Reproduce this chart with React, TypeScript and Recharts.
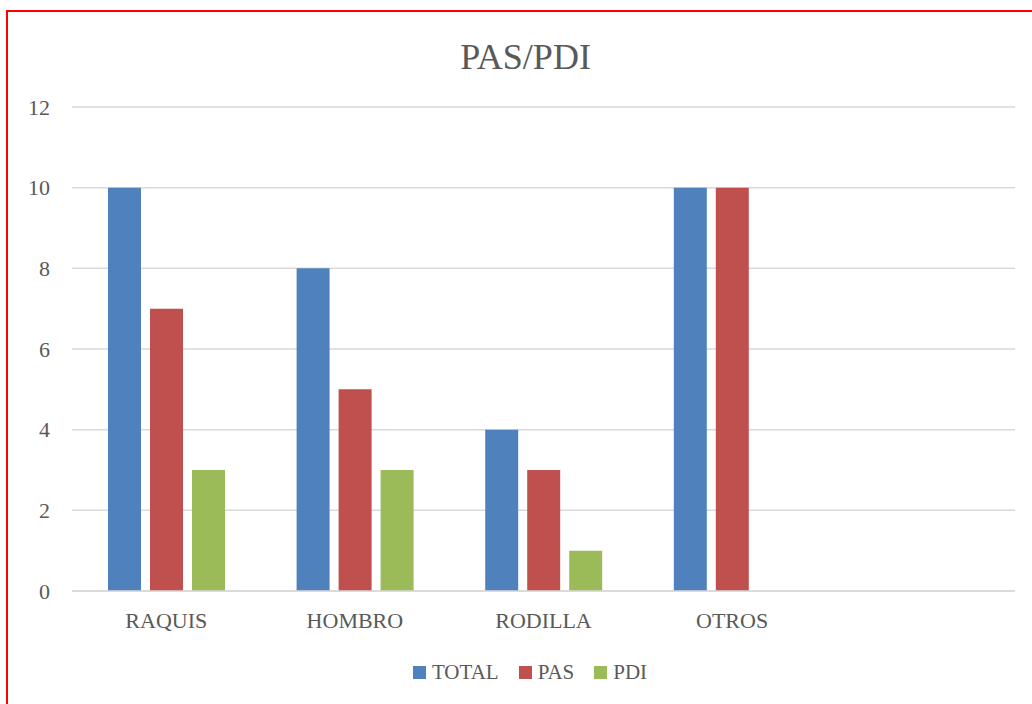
import React from "react";
import { BarChart, Bar, XAxis, YAxis, CartesianGrid, Legend } from "recharts";

const categories = ["RAQUIS", "HOMBRO", "RODILLA", "OTROS", ""];
const totalValues: (number | null)[] = [10, 8, 4, 10, null];
const pasValues: (number | null)[] = [7, 5, 3, 10, null];
const pdiValues: (number | null)[] = [3, 3, 1, 0, null];
const yTicks = [0, 2, 4, 6, 8, 10, 12];

const seriesInfo = [
  { key: "TOTAL", color: "#4F81BD" },
  { key: "PAS", color: "#C0504D" },
  { key: "PDI", color: "#9BBB59" },
];

const data = categories.map((c, i) => ({
  name: c,
  TOTAL: totalValues[i],
  PAS: pasValues[i],
  PDI: pdiValues[i],
}));

const FONT = "'Liberation Serif', 'DejaVu Serif', serif";
const TEXT = "#595959";

const LegendContent = () => (
  <div style={{ display: "flex", justifyContent: "center", alignItems: "center", fontFamily: FONT, fontSize: 21, lineHeight: "24px", height: 24, color: TEXT }}>
    {seriesInfo.map((s, i) => (
      <div key={s.key} style={{ display: "flex", alignItems: "center", marginLeft: i === 0 ? 0 : 20 }}>
        <div style={{ width: 13, height: 13, background: s.color, marginRight: 6 }} />
        <span>{s.key}</span>
      </div>
    ))}
  </div>
);

export default function App() {
  return (
    <div style={{ position: "absolute", left: 0, top: 0, width: 1032, height: 704, overflow: "hidden", background: "#fff" }}>
      <div style={{ position: "absolute", left: 6, top: 10, width: 1100, height: 800, border: "2px solid #FF0000", boxSizing: "border-box" }} />
      <div style={{ position: "absolute", left: 19, top: 39, width: 1013, textAlign: "center", fontFamily: FONT, fontSize: 36, lineHeight: "36px", color: TEXT }}>
        PAS/PDI
      </div>
      <div style={{ position: "absolute", left: 0, top: 0 }}>
        <BarChart
          width={1032}
          height={704}
          data={data}
          margin={{ top: 107, right: 17, left: 12, bottom: 59 }}
          barSize={33}
          barGap={9}
        >
          <CartesianGrid vertical={false} stroke="#D9D9D9" strokeWidth={1.5} />
          <XAxis
            dataKey="name"
            tickLine={false}
            tickSize={0}
            tickMargin={21}
            axisLine={{ stroke: "#D9D9D9", strokeWidth: 1.5 }}
            tick={{ fill: TEXT, fontSize: 22, fontFamily: FONT }}
            interval={0}
          />
          <YAxis
            width={60}
            domain={[0, 12]}
            ticks={yTicks}
            tickLine={false}
            tickSize={0}
            tickMargin={22}
            axisLine={false}
            tick={{ fill: TEXT, fontSize: 22, fontFamily: FONT }}
          />
          <Legend
            verticalAlign="bottom"
            content={<LegendContent />}
            wrapperStyle={{ top: 660, left: 28, width: 1004 }}
          />
          {seriesInfo.map((s) => (
            <Bar key={s.key} dataKey={s.key} fill={s.color} isAnimationActive={false} />
          ))}
        </BarChart>
      </div>
    </div>
  );
}
